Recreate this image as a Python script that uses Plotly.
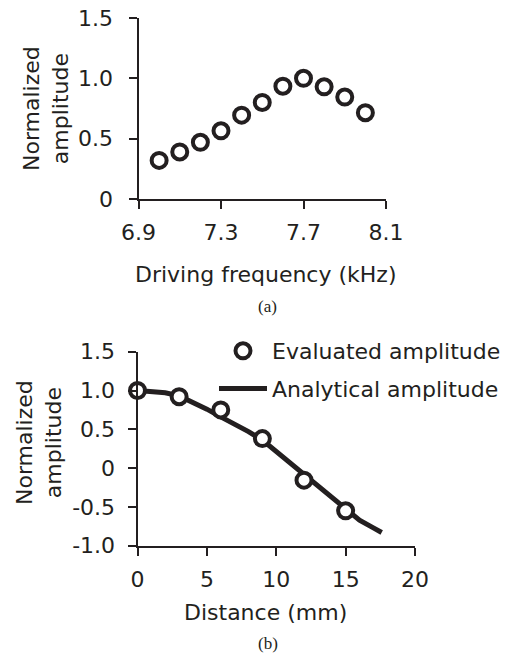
import plotly.graph_objects as go

# ---- data (a) ----
freq_khz = [7.0, 7.1, 7.2, 7.3, 7.4, 7.5, 7.6, 7.7, 7.8, 7.9, 8.0]
amp_freq = [0.32, 0.39, 0.47, 0.565, 0.695, 0.80, 0.935, 1.0, 0.93, 0.845, 0.715]
freq_ticks = [6.9, 7.3, 7.7, 8.1]
freq_ticktext = ["6.9", "7.3", "7.7", "8.1"]
amp_ticks_a = [0, 0.5, 1.0, 1.5]
amp_ticktext_a = ["0", "0.5", "1.0", "1.5"]

# ---- data (b) ----
dist_eval = [0, 3, 6, 9, 12, 15]
amp_eval = [1.0, 0.92, 0.75, 0.38, -0.155, -0.55]
dist_analytic = [0, 1, 2, 3, 4, 5, 6, 7, 8, 9, 10, 11, 12, 13, 14, 15, 16, 17, 17.6]
amp_analytic = [1.0, 0.99, 0.97, 0.93, 0.85, 0.76, 0.66, 0.57, 0.47, 0.36, 0.21,
                0.06, -0.08, -0.24, -0.39, -0.54, -0.67, -0.77, -0.83]
dist_ticks = [0, 5, 10, 15, 20]
dist_ticktext = ["0", "5", "10", "15", "20"]
amp_ticks_b = [-1.0, -0.5, 0, 0.5, 1.0, 1.5]
amp_ticktext_b = ["-1.0", "-0.5", "0", "0.5", "1.0", "1.5"]

W, H = 524, 656
INK = "#231f20"
FONT = "DejaVu Sans"
FS = 22


def px_x(p):
    return p / W


def px_y(p):
    return 1 - p / H


fig = go.Figure()

marker_style = dict(symbol="circle", size=15, color="white",
                    line=dict(color=INK, width=4))

fig.add_trace(go.Scatter(x=freq_khz, y=amp_freq, mode="markers",
                         marker=marker_style, cliponaxis=False,
                         showlegend=False, xaxis="x", yaxis="y"))

fig.add_trace(go.Scatter(x=dist_analytic, y=amp_analytic, mode="lines",
                         line=dict(color=INK, width=5),
                         name="Analytical amplitude", legendgroup="ana",
                         legendrank=2, cliponaxis=False,
                         xaxis="x2", yaxis="y2"))
fig.add_trace(go.Scatter(x=dist_eval, y=amp_eval, mode="markers",
                         marker=marker_style, name="Evaluated amplitude",
                         legendgroup="eva", legendrank=1, cliponaxis=False,
                         xaxis="x2", yaxis="y2"))

axis_common = dict(showline=True, linecolor=INK, linewidth=2, ticks="outside",
                   ticklen=8, tickwidth=2, tickcolor=INK, showgrid=False,
                   zeroline=False, tickfont=dict(family=FONT, size=FS, color=INK),
                   ticklabeloverflow="allow", fixedrange=True)

fig.update_layout(
    width=W, height=H,
    margin=dict(l=0, r=0, t=0, b=0, autoexpand=False),
    paper_bgcolor="white", plot_bgcolor="white",
    font=dict(family=FONT, size=FS, color=INK),
    xaxis=dict(domain=[px_x(138.5), px_x(386)], range=[6.9, 8.1],
               tickvals=freq_ticks, ticktext=freq_ticktext, anchor="y",
               ticklabelstandoff=5, **axis_common),
    yaxis=dict(domain=[px_y(199), px_y(18)], range=[0, 1.5],
               tickvals=amp_ticks_a, ticktext=amp_ticktext_a, anchor="x",
               ticklabelstandoff=11, **axis_common),
    xaxis2=dict(domain=[px_x(137.5), px_x(415)], range=[0, 20],
                tickvals=dist_ticks, ticktext=dist_ticktext, anchor="y2",
                ticklabelstandoff=5, **axis_common),
    yaxis2=dict(domain=[px_y(545.7), px_y(351.7)], range=[-1.0, 1.5],
                tickvals=amp_ticks_b, ticktext=amp_ticktext_b, anchor="x2",
                ticklabelstandoff=8, **axis_common),
    legend=dict(x=px_x(214), y=px_y(330), xanchor="left", yanchor="top",
                font=dict(family=FONT, size=FS, color=INK),
                bgcolor="rgba(0,0,0,0)", traceorder="grouped",
                tracegroupgap=6, itemwidth=48),
    showlegend=True,
)

ann_font = dict(family=FONT, size=FS, color=INK)
serif_font = dict(family="Liberation Serif", size=17, color=INK)
annotations = [
    dict(text="Driving frequency (kHz)", x=px_x(265), y=px_y(274),
         font=ann_font),
    dict(text="Distance (mm)", x=px_x(265), y=px_y(612), font=ann_font),
    dict(text="Normalized<br>amplitude", x=px_x(46), y=px_y(109),
         textangle=-90, font=ann_font),
    dict(text="Normalized<br>amplitude", x=px_x(39), y=px_y(443),
         textangle=-90, font=ann_font),
    dict(text="(a)", x=px_x(267), y=px_y(306), font=serif_font),
    dict(text="(b)", x=px_x(268), y=px_y(643), font=serif_font),
]
for a in annotations:
    a.update(xref="paper", yref="paper", showarrow=False,
             xanchor="center", yanchor="middle")
fig.update_layout(annotations=annotations)

# remove the browser's default 8px body margin so the figure fills the window
fig.write_html("out.html", config={"displayModeBar": False},
               post_script="document.body.style.margin='0px';")
